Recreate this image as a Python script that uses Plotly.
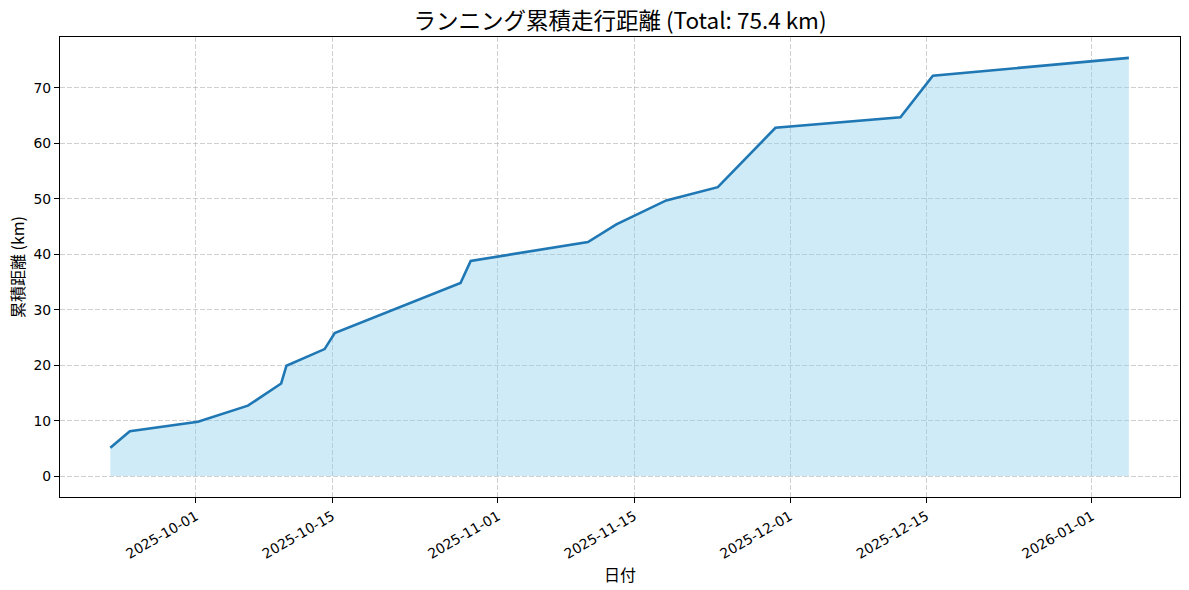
import plotly.graph_objects as go

# Data (run timestamps and cumulative distance, km)
run_dates = [
    "2025-09-22 05:00", "2025-09-24 05:00", "2025-10-01 05:00", "2025-10-06 08:00",
    "2025-10-09 18:00", "2025-10-10 07:00", "2025-10-14 05:00", "2025-10-15 06:00",
    "2025-10-28 04:00", "2025-10-29 05:00", "2025-11-10 06:00", "2025-11-13 04:00",
    "2025-11-18 07:00", "2025-11-23 14:00", "2025-11-29 12:00", "2025-12-12 08:00",
    "2025-12-15 16:00", "2026-01-04 19:00",
]
cumulative_km = [
    5.1, 8.1, 9.8, 12.7,
    16.7, 19.9, 22.9, 25.8,
    34.8, 38.8, 42.2, 45.4,
    49.7, 52.1, 62.8, 64.7,
    72.2, 75.4,
]
x_tick_vals = ["2025-10-01", "2025-10-15", "2025-11-01", "2025-11-15",
               "2025-12-01", "2025-12-15", "2026-01-01"]
x_tick_text = x_tick_vals
y_tick_vals = [0, 10, 20, 30, 40, 50, 60, 70]

total = cumulative_km[-1]

fig = go.Figure()
fig.add_trace(go.Scatter(
    x=run_dates, y=cumulative_km, mode="lines",
    fill="tozeroy", fillcolor="rgba(135,206,235,0.4)",
    line=dict(color="#1f77b4", width=2.6),
    showlegend=False, hoverinfo="x+y",
))

grid_color = "rgba(176,176,176,0.6)"
grid_dash = "4.5px,2.5px"
tick_font = dict(family="DejaVu Sans", size=13.9, color="black")
jp_font = "Noto Sans CJK JP"

fig.update_layout(
    width=1189, height=590,
    paper_bgcolor="white", plot_bgcolor="white",
    margin=dict(l=60.3, r=8.7, t=37.3, b=92.7, autoexpand=False),
    title=dict(text=f"ランニング累積走行距離 (Total: {total} km)",
               font=dict(family=jp_font, size=22.5, color="black"),
               x=0.5, xref="paper", xanchor="center",
               y=1 - 21 / 590, yref="container", yanchor="middle"),
    xaxis=dict(
        type="date",
        range=["2025-09-17 00:58", "2026-01-10 01:00"],
        tickvals=x_tick_vals, ticktext=x_tick_text,
        tickangle=-30, tickfont=tick_font,
        showgrid=True, gridcolor=grid_color, griddash=grid_dash, gridwidth=0.9,
        showline=True, linecolor="black", linewidth=1.2, mirror=True,
        ticks="outside", ticklen=5, tickcolor="black", tickwidth=1,
        zeroline=False,
        title=dict(text="日付", font=dict(family=jp_font, size=16, color="black"),
                   standoff=0),
    ),
    yaxis=dict(
        range=[-3.77, 79.17],
        tickvals=y_tick_vals, tickfont=tick_font,
        showgrid=True, gridcolor=grid_color, griddash=grid_dash, gridwidth=0.9,
        showline=True, linecolor="black", linewidth=1.2, mirror=True,
        ticks="outside", ticklen=5, tickcolor="black", tickwidth=1,
        zeroline=False,
        title=dict(text="累積距離 (km)", font=dict(family=jp_font, size=16, color="black"),
                   standoff=4),
    ),
)

fig.write_html("out.html", config={"displayModeBar": False},
               post_script="document.body.style.margin='0';")
